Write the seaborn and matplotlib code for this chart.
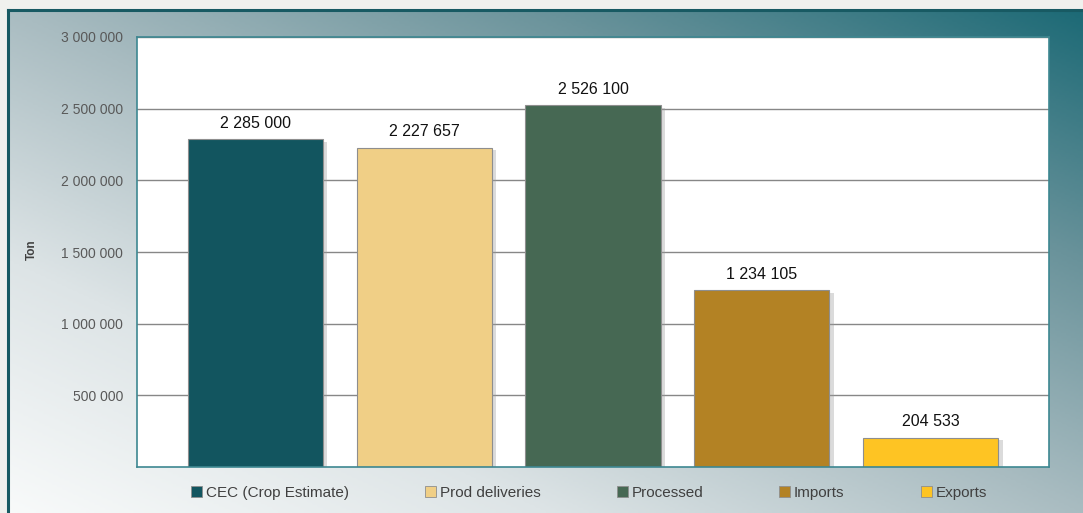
import numpy as np
import pandas as pd
import matplotlib
matplotlib.use("Agg")
import matplotlib.pyplot as plt
import matplotlib.patheffects as pe
from matplotlib.colors import LinearSegmentedColormap
from matplotlib.patches import Patch
import seaborn as sns

# ---- data ----
categories = ["CEC (Crop Estimate)", "Prod deliveries", "Processed", "Imports", "Exports"]
values = [2285000, 2227657, 2526100, 1234105, 204533]
bar_colors = ["#12555f", "#f0cf86", "#466853", "#b38224", "#fec423"]
y_ticks = [500000, 1000000, 1500000, 2000000, 2500000, 3000000]
y_label = "Ton"

sns.set_theme(style="white")
plt.rcParams["font.family"] = ["Liberation Sans", "DejaVu Sans"]

W, H = 1083, 513
fig = plt.figure(figsize=(W / 100, H / 100), dpi=100, facecolor="#f0f1ee")

# ---- gradient background panel ----
bg = fig.add_axes([8 / W, 0, 1 - 8 / W, 1 - 10 / H], zorder=0)
gh, gw = 200, 400
xx = np.linspace(0, 1, gw)[None, :]
yy = np.linspace(1, 0, gh)[:, None]
t = 0.5 * xx + 0.5 * yy
cmap = LinearSegmentedColormap.from_list(
    "bg", [(0, "#f8fafa"), (0.25, "#dde4e6"), (0.5, "#a9bcc1"), (0.75, "#6a939b"), (1, "#1d6a76")]
)
bg.imshow(t, cmap=cmap, aspect="auto", extent=[0, 1, 0, 1], vmin=0, vmax=1, interpolation="bilinear")
bg.set_xlim(0, 1)
bg.set_ylim(0, 1)
bg.set_xticks([])
bg.set_yticks([])
for s in ["right", "bottom"]:
    bg.spines[s].set_visible(False)
for s in ["left", "top"]:
    bg.spines[s].set_color("#185a63")
    bg.spines[s].set_linewidth(2.2)

# ---- main axes ----
ax = fig.add_axes([137 / W, 1 - 467 / H, (1049 - 137) / W, (467 - 37) / H], zorder=2)
ax.set_facecolor("white")

df = pd.DataFrame({"cat": categories, "val": values})
sns.barplot(data=df, x="cat", y="val", hue="cat", palette=bar_colors, dodge=False,
            width=0.8, ax=ax, legend=False, edgecolor="#8e8e8e", linewidth=0.8,
            saturation=1)

shadow = [pe.SimplePatchShadow(offset=(3, -2), shadow_rgbFace="#9a9a9a", alpha=0.35), pe.Normal()]
for p in ax.patches:
    p.set_path_effects(shadow)

ax.set_xlim(-0.7, 4.7)
ax.set_ylim(0, 3000000)
ax.set_yticks(y_ticks)
ax.set_yticklabels([f"{v:,}".replace(",", " ") for v in y_ticks])
ax.set_xticks([])
ax.set_xlabel("")
ax.tick_params(axis="y", length=0, pad=10, labelsize=10, labelcolor="#595959")
ax.yaxis.grid(True, color="#878787", linewidth=1)
ax.set_axisbelow(True)
for s in ax.spines.values():
    s.set_visible(True)
    s.set_color("#3d8791")
    s.set_linewidth(1.2)

ax.set_ylabel(y_label, fontsize=8.5, fontweight="bold", color="#404040")
ax.yaxis.set_label_coords((38 - 137) / 912, (467 - 250) / 430)

for i, v in enumerate(values):
    ax.annotate(f"{v:,}".replace(",", " "), xy=(i, v), xytext=(0, 6),
                textcoords="offset points", ha="center", va="bottom",
                fontsize=11.5, color="#111111")

handles = [Patch(facecolor=c, edgecolor="#8e8e8e", linewidth=0.6) for c in bar_colors]
leg = fig.legend(handles, categories, loc="center", bbox_to_anchor=(589 / W, 1 - 493 / H),
                 ncol=5, frameon=False, fontsize=11, handlelength=0.7, handleheight=0.7,
                 handletextpad=0.25, columnspacing=5.0, labelcolor="#404040")

fig.savefig("out.png", dpi=100, facecolor=fig.get_facecolor())
